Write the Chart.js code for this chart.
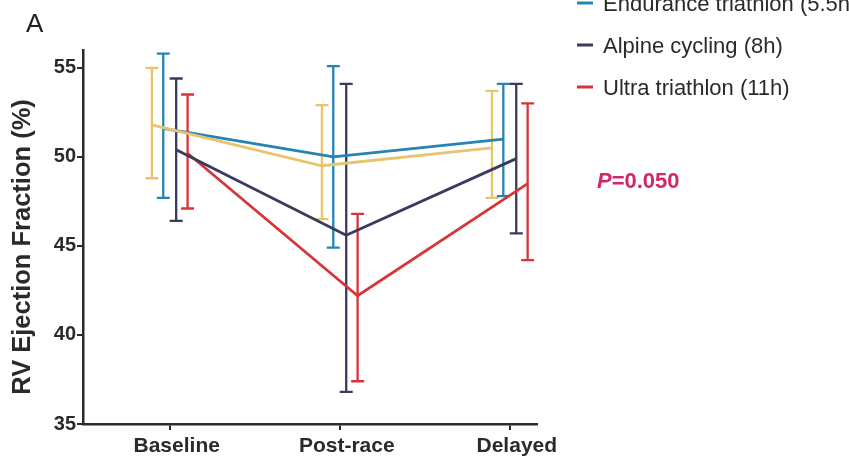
<!DOCTYPE html>
<html>
<head>
<meta charset="utf-8">
<script src="https://cdn.jsdelivr.net/npm/chart.js@4"></script>
<style>
  html, body { margin: 0; padding: 0; background: #fff; }
  #wrap { width: 849px; height: 467px; position: relative; }
</style>
</head>
<body>
<div id="wrap"><canvas id="c" width="849" height="467"></canvas></div>
<script>
// Time points
const categories = ['Baseline', 'Post-race', 'Delayed'];

// Group names
const seriesNames = ['Marathon (3h)', 'Endurance triathlon (5.5h)', 'Alpine cycling (8h)', 'Ultra triathlon (11h)'];

// Mean RV ejection fraction (%) per group
const marathonMean   = [51.8, 49.5, 50.5];
const enduranceMean  = [51.6, 50.0, 51.0];
const alpineMean     = [50.4, 45.6, 49.9];
const ultraMean      = [50.2, 42.2, 48.5];

// Error bar limits (lower / upper)
const marathonLow    = [48.8, 46.5, 47.7];
const marathonHigh   = [55.0, 52.9, 53.7];
const enduranceLow   = [47.7, 44.9, 47.8];
const enduranceHigh  = [55.8, 55.1, 54.1];
const alpineLow      = [46.4, 36.8, 45.7];
const alpineHigh     = [54.4, 54.1, 54.1];
const ultraLow       = [47.1, 37.4, 44.2];
const ultraHigh      = [53.5, 46.8, 53.0];

// Y axis ticks
const yTicks = [35, 40, 45, 50, 55];

const yTitle = 'RV Ejection Fraction (%)';
const pValueText = '0.050';

// Styling
const COLORS = ['#e9c46e', '#2585b0', '#3a3a5e', '#d8353b'];
const DODGE = [-0.105, -0.038, 0.038, 0.105];
const AXIS_COLOR = '#2b2b2b';
const TEXT_COLOR = '#2a2a2a';
const FONT = '"Liberation Sans", Arial, sans-serif';

const means = [marathonMean, enduranceMean, alpineMean, ultraMean];
const lows = [marathonLow, enduranceLow, alpineLow, ultraLow];
const highs = [marathonHigh, enduranceHigh, alpineHigh, ultraHigh];

const datasets = means.map((m, s) => ({
  label: seriesNames[s],
  data: m.map((v, i) => ({ x: i + DODGE[s], y: v })),
  borderColor: COLORS[s],
  backgroundColor: COLORS[s],
  borderWidth: 2.8,
  pointRadius: 0,
  tension: 0,
  fill: false,
  low: lows[s],
  high: highs[s]
}));

// Vertical error bars with caps, placed through the chart scales
const errorBars = {
  id: 'errorBars',
  beforeDatasetsDraw(chart) {
    const { ctx, scales: { x, y } } = chart;
    ctx.save();
    chart.data.datasets.forEach((ds) => {
      ctx.strokeStyle = ds.borderColor;
      ctx.lineWidth = 2.3;
      ds.data.forEach((pt, i) => {
        const px = x.getPixelForValue(pt.x);
        const yl = y.getPixelForValue(ds.low[i]);
        const yh = y.getPixelForValue(ds.high[i]);
        ctx.beginPath();
        ctx.moveTo(px, yl); ctx.lineTo(px, yh);
        ctx.moveTo(px - 6.5, yl); ctx.lineTo(px + 6.5, yl);
        ctx.moveTo(px - 6.5, yh); ctx.lineTo(px + 6.5, yh);
        ctx.stroke();
      });
    });
    ctx.restore();
  }
};

// Legend, axis title, panel letter and P value
const extras = {
  id: 'extras',
  afterDraw(chart) {
    const { ctx } = chart;
    ctx.save();
    // legend (the first entry sits above the visible area)
    const baseY = [-31, 11, 53, 95];
    ctx.font = '22px ' + FONT;
    ctx.textBaseline = 'alphabetic';
    ctx.textAlign = 'left';
    seriesNames.forEach((name, s) => {
      const by = baseY[s];
      ctx.strokeStyle = COLORS[s];
      ctx.lineWidth = 3;
      ctx.beginPath();
      ctx.moveTo(577, by - 8);
      ctx.lineTo(593, by - 8);
      ctx.stroke();
      ctx.fillStyle = TEXT_COLOR;
      ctx.fillText(name, 603, by);
    });
    // y axis title
    ctx.save();
    ctx.translate(30, 247);
    ctx.rotate(-Math.PI / 2);
    ctx.textAlign = 'center';
    ctx.fillStyle = TEXT_COLOR;
    ctx.font = 'bold 25.5px ' + FONT;
    ctx.fillText(yTitle, 0, 0);
    ctx.restore();
    // panel letter
    ctx.fillStyle = '#222';
    ctx.font = '26px ' + FONT;
    ctx.fillText('A', 26, 32);
    // P value
    ctx.fillStyle = '#d2276a';
    ctx.font = 'italic bold 22px ' + FONT;
    ctx.fillText('P', 597, 188);
    const pw = ctx.measureText('P').width;
    ctx.font = 'bold 22px ' + FONT;
    ctx.fillText('=' + pValueText, 597 + pw, 188);
    ctx.restore();
  }
};

new Chart(document.getElementById('c'), {
  type: 'line',
  data: { datasets },
  options: {
    responsive: false,
    animation: false,
    layout: { padding: { top: 50, right: 312, left: 0, bottom: 0 } },
    plugins: { legend: { display: false }, tooltip: { enabled: false } },
    scales: {
      x: {
        type: 'linear',
        min: -0.51,
        max: 2.16,
        afterBuildTicks: (scale) => { scale.ticks = categories.map((c, i) => ({ value: i })); },
        afterFit: (scale) => { scale.height = 43; },
        grid: { drawOnChartArea: false, drawTicks: true, tickLength: 6, color: AXIS_COLOR, lineWidth: 2 },
        border: { display: true, color: AXIS_COLOR, width: 2.5 },
        ticks: {
          callback: (v) => categories[v] ?? '',
          color: TEXT_COLOR,
          font: { family: FONT, size: 21, weight: 'bold' },
          padding: 4,
          labelOffset: 7,
          maxRotation: 0,
          autoSkip: false
        }
      },
      y: {
        min: 35,
        max: 56,
        afterBuildTicks: (scale) => { scale.ticks = yTicks.map(v => ({ value: v })); },
        afterFit: (scale) => { scale.width = 83; },
        grid: { drawOnChartArea: false, drawTicks: true, tickLength: 6, color: AXIS_COLOR, lineWidth: 2 },
        border: { display: true, color: AXIS_COLOR, width: 2.5 },
        ticks: {
          color: TEXT_COLOR,
          font: { family: '"Liberation Sans Narrow", ' + FONT, size: 20, weight: 'bold' },
          padding: 1
        }
      }
    }
  },
  plugins: [errorBars, extras]
});
</script>
</body>
</html>
